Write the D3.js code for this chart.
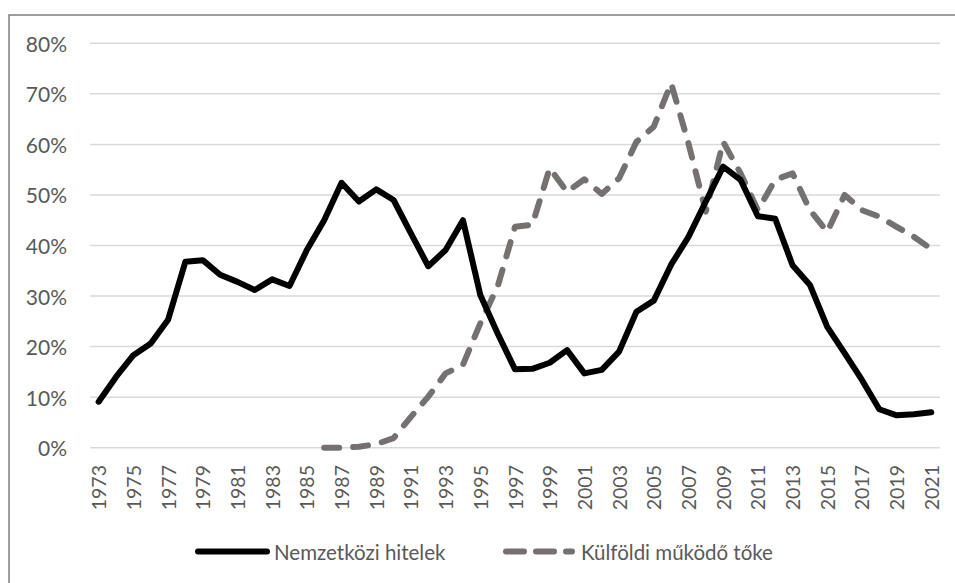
<!DOCTYPE html>
<html>
<head>
<meta charset="utf-8">
<script src="https://cdn.jsdelivr.net/npm/d3@7"></script>
<style>
  html, body { margin: 0; padding: 0; background: #fff; }
  svg { display: block; }
  text { font-family: Lato, "Open Sans", sans-serif; fill: #595959; }
</style>
</head>
<body>
<svg id="chart" width="955" height="583"></svg>
<script>
const years = d3.range(1973, 2022).map(String);
const yearTickLabels = years.filter((d, i) => i % 2 === 0);
const yTicks = [0, 0.1, 0.2, 0.3, 0.4, 0.5, 0.6, 0.7, 0.8];
const seriesNames = ["Nemzetközi hitelek", "Külföldi működő tőke"];

// Nemzetközi hitelek 1973–2021 (%)
const loans = [9.1, 14.0, 18.3, 20.6, 25.3, 36.8, 37.1, 34.2, 32.8, 31.2,
  33.3, 32.0, 39.1, 45.0, 52.4, 48.7, 51.1, 49.0, 42.4, 35.9,
  39.1, 45.0, 30.2, 22.6, 15.5, 15.6, 16.8, 19.3, 14.7, 15.4,
  19.0, 26.9, 29.1, 36.2, 41.7, 48.7, 55.6, 53.0, 45.8, 45.3,
  36.1, 32.2, 23.9, 18.7, 13.4, 7.6, 6.4, 6.6, 7.0];

// Külföldi működő tőke 1986–2021 (%), null before 1986
const fdi = [null, null, null, null, null, null, null, null, null, null,
  null, null, null, 0.0, 0.0, 0.2, 0.7, 1.9, 6.1, 10.1,
  14.7, 16.4, 24.6, 31.9, 43.7, 44.1, 55.3, 50.6, 53.1, 50.2,
  53.3, 60.5, 63.5, 72.1, 60.2, 46.7, 60.5, 54.3, 47.0, 53.0,
  54.3, 47.0, 42.7, 50.0, 47.0, 45.7, 43.7, 41.7, 39.3];

const svg = d3.select("#chart");

// outer frame
svg.append("rect")
  .attr("x", 9).attr("y", 15).attr("width", 980).attr("height", 620)
  .attr("fill", "none").attr("stroke", "#7f7f7f").attr("stroke-width", 1.5);

const x = d3.scaleBand().domain(years).range([90, 940]).padding(0);
const cx = d => x(d) + x.bandwidth() / 2;
const y = d3.scaleLinear().domain([0, 0.8]).range([447.7, 43.3]);

// gridlines
svg.append("g").selectAll("line").data(yTicks).join("line")
  .attr("x1", 90).attr("x2", 940)
  .attr("y1", d => y(d)).attr("y2", d => y(d))
  .attr("stroke", "#d9d9d9").attr("stroke-width", 1.5);

// y labels
svg.append("g").selectAll("text").data(yTicks).join("text")
  .attr("x", 67).attr("y", d => y(d))
  .attr("text-anchor", "end").attr("dominant-baseline", "central")
  .attr("font-size", 21)
  .text(d3.format(".0%"));

// x labels
svg.append("g").selectAll("text").data(yearTickLabels).join("text")
  .attr("transform", d => `translate(${cx(d)},465) rotate(-90)`)
  .attr("text-anchor", "end").attr("dominant-baseline", "central")
  .attr("font-size", 19.5)
  .text(d => d);

const line = d3.line()
  .defined(d => d.v !== null)
  .x(d => cx(d.year))
  .y(d => y(d.v / 100));

svg.append("path")
  .datum(years.map((yr, i) => ({ year: yr, v: fdi[i] })))
  .attr("d", line)
  .attr("fill", "none").attr("stroke", "#767171").attr("stroke-width", 6)
  .attr("stroke-linecap", "round").attr("stroke-linejoin", "round")
  .attr("stroke-dasharray", "15,14");

svg.append("path")
  .datum(years.map((yr, i) => ({ year: yr, v: loans[i] })))
  .attr("d", line)
  .attr("fill", "none").attr("stroke", "#000").attr("stroke-width", 6)
  .attr("stroke-linecap", "round").attr("stroke-linejoin", "round");

// legend
const lg = svg.append("g");
lg.append("line").attr("x1", 198).attr("x2", 267).attr("y1", 551.5).attr("y2", 551.5)
  .attr("stroke", "#000").attr("stroke-width", 6).attr("stroke-linecap", "round");
lg.append("text").attr("x", 274).attr("y", 551.5).attr("dominant-baseline", "central")
  .attr("font-size", 20.5).text(seriesNames[0]);
lg.append("line").attr("x1", 506).attr("x2", 572).attr("y1", 551.5).attr("y2", 551.5)
  .attr("stroke", "#767171").attr("stroke-width", 6).attr("stroke-linecap", "round")
  .attr("stroke-dasharray", "18,12");
lg.append("text").attr("x", 581).attr("y", 551.5).attr("dominant-baseline", "central")
  .attr("font-size", 20.5).text(seriesNames[1]);
</script>
</body>
</html>
